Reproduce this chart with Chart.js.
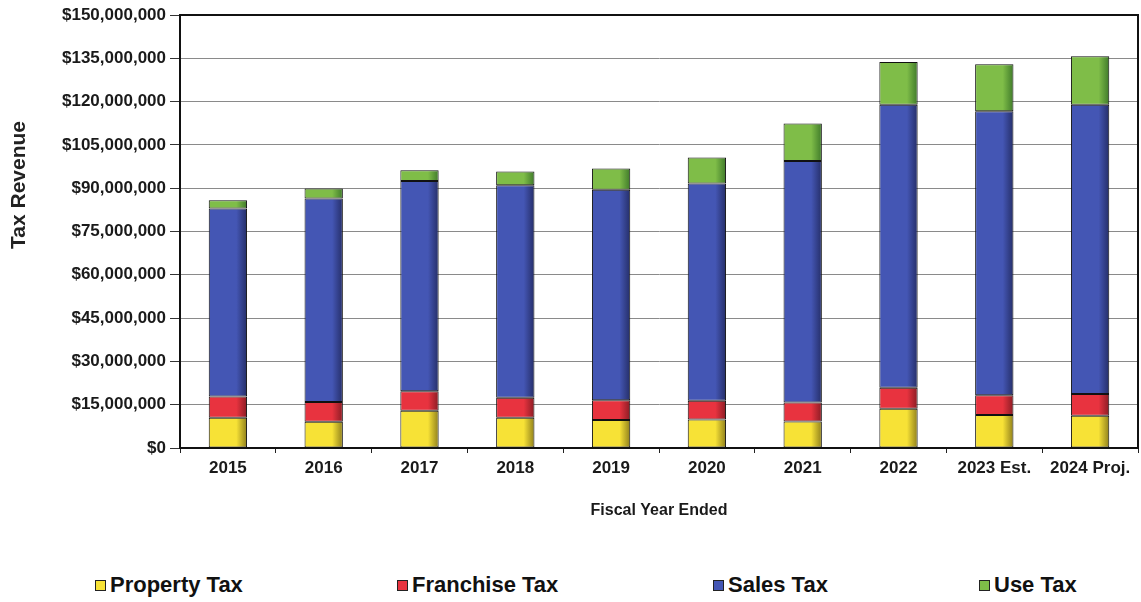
<!DOCTYPE html>
<html>
<head>
<meta charset="utf-8">
<script src="https://cdn.jsdelivr.net/npm/chart.js@4.4.1/dist/chart.umd.min.js"></script>
<style>
  body { margin: 0; background: #fff; }
  #wrap { position: relative; width: 1141px; height: 602px; }
  #chartBox { position: absolute; left: 0; top: 0; width: 1141px; height: 528px; }
  .legend-item {
    position: absolute; top: 572px; height: 26px; line-height: 26px;
    font: bold 22px "Liberation Sans", Arial, sans-serif; color: #111;
    display: flex; align-items: center; white-space: nowrap;
  }
  .legend-item i {
    display: inline-block; width: 11px; height: 11px; margin-right: 4px;
    border: 1px solid #222; box-sizing: border-box;
  }
</style>
</head>
<body>
<div id="wrap">
  <div id="chartBox"><canvas id="taxChart"></canvas></div>
</div>
<script>
  // data (dollars)
  const categories = ["2015", "2016", "2017", "2018", "2019", "2020", "2021", "2022", "2023 Est.", "2024 Proj."];
  const propertyTax = [10500000, 9100000, 12900000, 10500000, 9700000, 9900000, 9200000, 13600000, 11400000, 11200000];
  const franchiseTax = [7300000, 6800000, 6800000, 6900000, 6800000, 6500000, 6600000, 7300000, 6900000, 7500000];
  const salesTax = [65200000, 70500000, 72800000, 73600000, 73000000, 75200000, 83600000, 98000000, 98400000, 100200000];
  const useTax = [2800000, 3500000, 3700000, 4800000, 7300000, 9000000, 13000000, 14800000, 16200000, 16800000];
  const seriesNames = ["Property Tax", "Franchise Tax", "Sales Tax", "Use Tax"];
  const yMax = 150000000;
  const yStep = 15000000;

  const colors = [
    { base: "#f7e236", dark: "#8f7f1c" },
    { base: "#e8333f", dark: "#8a1c24" },
    { base: "#4456b4", dark: "#252e68" },
    { base: "#7fbd48", dark: "#3f7a2a" },
  ];
  const barPct = 0.4;

  // horizontal shading like the original bars
  function shade(i) {
    return (ctx) => {
      const chart = ctx.chart;
      const xs = chart.scales.x;
      if (!chart.chartArea || !xs || ctx.dataIndex === undefined) return colors[i].base;
      const cx = xs.getPixelForValue(ctx.dataIndex);
      const w = (xs.width / categories.length) * barPct;
      const g = chart.ctx.createLinearGradient(cx - w / 2, 0, cx + w / 2, 0);
      g.addColorStop(0, colors[i].base);
      g.addColorStop(0.72, colors[i].base);
      g.addColorStop(1, colors[i].dark);
      return g;
    };
  }

  const seriesData = [propertyTax, franchiseTax, salesTax, useTax];
  const datasets = seriesData.map((d, i) => ({
    label: seriesNames[i],
    data: d,
    backgroundColor: shade(i),
    borderColor: "#111",
    borderWidth: 1,
    borderSkipped: false,
    barPercentage: barPct,
    categoryPercentage: 1,
  }));

  const frame = {
    id: "frame",
    afterDraw(chart) {
      const { ctx, chartArea: a } = chart;
      ctx.save();
      ctx.strokeStyle = "#111";
      ctx.lineWidth = 2;
      ctx.strokeRect(a.left, a.top, a.right - a.left, a.bottom - a.top);
      // y axis title, sits above the middle in the original
      ctx.translate(19, 185);
      ctx.rotate(-Math.PI / 2);
      ctx.fillStyle = "#222";
      ctx.font = 'bold 21px "Liberation Sans", Arial, sans-serif';
      ctx.textAlign = "center";
      ctx.textBaseline = "middle";
      ctx.fillText("Tax Revenue", 0, 0);
      ctx.restore();
    },
  };

  Chart.defaults.font.family = '"Liberation Sans", Arial, sans-serif';
  Chart.defaults.color = "#1a1a1a";

  new Chart(document.getElementById("taxChart"), {
    type: "bar",
    data: { labels: categories, datasets: datasets },
    options: {
      responsive: true,
      maintainAspectRatio: false,
      animation: false,
      layout: { padding: { top: 15, right: 3, bottom: 0, left: 0 } },
      plugins: {
        legend: { display: false },
        tooltip: { enabled: false },
      },
      scales: {
        x: {
          stacked: true,
          afterFit: (s) => { s.height = 80; },
          grid: {
            offset: true,
            drawOnChartArea: false,
            color: "#222",
            tickColor: "#222",
            tickLength: 5,
          },
          border: { color: "#111", width: 2 },
          ticks: { font: { size: 17, weight: "bold" }, padding: 5, maxRotation: 0 },
          title: {
            display: true,
            text: "Fiscal Year Ended",
            font: { size: 16, weight: "bold" },
            padding: { top: 0, bottom: 8 },
          },
        },
        y: {
          stacked: true,
          min: 0,
          max: yMax,
          afterFit: (s) => { s.width = 180; },
          grid: { color: "#8a8a8a", tickColor: "#333", tickLength: 10, lineWidth: 1 },
          border: { color: "#111", width: 2 },
          ticks: {
            stepSize: yStep,
            padding: 4,
            font: { size: 17, weight: "bold" },
            callback: (v) => "$" + Number(v).toLocaleString("en-US"),
          },
        },
      },
    },
    plugins: [frame],
  });

  // legend row under the chart, spaced like the original
  const legendLeft = [95, 397, 713, 979];
  const wrap = document.getElementById("wrap");
  seriesNames.forEach((name, i) => {
    const item = document.createElement("div");
    item.className = "legend-item";
    item.style.left = legendLeft[i] + "px";
    const box = document.createElement("i");
    box.style.background = colors[i].base;
    item.appendChild(box);
    item.appendChild(document.createTextNode(name));
    wrap.appendChild(item);
  });
</script>
</body>
</html>
